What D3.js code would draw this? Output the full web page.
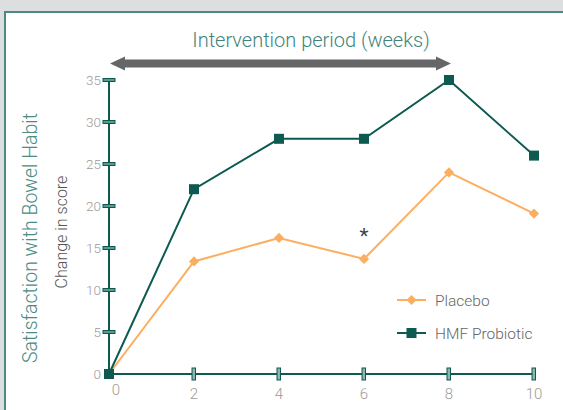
<!DOCTYPE html>
<html><head><meta charset="utf-8">
<script src="https://cdn.jsdelivr.net/npm/d3@7"></script>
<style>
html,body{margin:0;padding:0;background:#dcdee0;}
svg{display:block;}
text{font-family:Roboto, "DejaVu Sans", sans-serif;font-weight:300;}
</style></head>
<body>
<svg id="c" width="563" height="410"></svg>
<script>
const weeks = [0, 2, 4, 6, 8, 10];
const placebo = [0, 13.4, 16.2, 13.7, 24.0, 19.1];
const hmf = [0, 22, 28, 28, 35, 26];
const yTicks = [0, 5, 10, 15, 20, 25, 30, 35];
const xTicks = [0, 2, 4, 6, 8, 10];
const intervention = [0, 8];
const sigWeek = 6, sigLabel = "*";
const seriesNames = ["Placebo", "HMF Probiotic"];

const teal = "#0d5a50", orange = "#fcae60", frameCol = "#4b8a85";
const svg = d3.select("#c");

svg.append("rect").attr("x",5).attr("y",12).attr("width",600).attr("height",420)
  .attr("fill","#fff").attr("stroke",frameCol).attr("stroke-width",2);

const x = d3.scaleLinear().domain([0,10]).range([109,534]);
const y = d3.scaleLinear().domain([0,35]).range([374,80]);

// Title + arrow
svg.append("text").attr("x",311).attr("y",47).attr("text-anchor","middle")
  .attr("fill","#3f847b").attr("font-size",20).text("Intervention period (weeks)");
const ax0 = x(intervention[0]) + 1, ax1 = x(intervention[1]) + 2, ay = 63.5;
const hl = 15, hh = 7, sh = 4;
const ap = d3.path();
ap.moveTo(ax0, ay); ap.lineTo(ax0+hl, ay-hh); ap.lineTo(ax0+hl, ay-sh);
ap.lineTo(ax1-hl, ay-sh); ap.lineTo(ax1-hl, ay-hh); ap.lineTo(ax1, ay);
ap.lineTo(ax1-hl, ay+hh); ap.lineTo(ax1-hl, ay+sh); ap.lineTo(ax0+hl, ay+sh);
ap.lineTo(ax0+hl, ay+hh); ap.closePath();
svg.append("path").attr("d", ap.toString()).attr("fill","#656667");

// Axis titles
svg.append("text").attr("transform","translate(37,238) rotate(-90)").attr("text-anchor","middle")
  .attr("fill","#4a8c84").attr("font-size",19.5).text("Satisfaction with Bowel Habit");
svg.append("text").attr("transform","translate(67,232) rotate(-90)").attr("text-anchor","middle")
  .attr("fill","#555").attr("font-size",16).text("Change in score");

// Axes lines
svg.append("line").attr("x1",x(0)).attr("x2",x(0)).attr("y1",y(35)).attr("y2",y(0))
  .attr("stroke",teal).attr("stroke-width",2);
svg.append("line").attr("x1",x(0)).attr("x2",x(10)+2).attr("y1",y(0)).attr("y2",y(0))
  .attr("stroke",teal).attr("stroke-width",2);

// y ticks
yTicks.forEach(t => {
  if (t > 0) svg.append("rect").attr("x",x(0)-6).attr("y",y(t)-1.5).attr("width",12).attr("height",3)
    .attr("fill","#5d978e").attr("stroke",teal).attr("stroke-width",1);
  svg.append("text").attr("x",x(0)-8).attr("y",y(t)).attr("dy","0.36em").attr("text-anchor","end")
    .attr("fill","#9b9b9b").attr("font-size",13.5).text(t);
});
// x ticks
xTicks.forEach(t => {
  if (t > 0) svg.append("rect").attr("x",x(t)-2).attr("y",y(0)-6).attr("width",3.5).attr("height",12)
    .attr("fill","#8db5ad").attr("stroke",teal).attr("stroke-width",1);
  svg.append("text").attr("x", t === 0 ? x(t)+7 : x(t)).attr("y", t===0 ? 395 : 399).attr("text-anchor","middle")
    .attr("fill","#9b9b9b").attr("font-size",15).text(t);
});

const line = d3.line().x((d,i)=>x(weeks[i])).y(d=>y(d));
svg.append("path").datum(placebo).attr("d",line).attr("fill","none").attr("stroke",orange).attr("stroke-width",2);
svg.append("path").datum(hmf).attr("d",line).attr("fill","none").attr("stroke",teal).attr("stroke-width",2);

svg.selectAll(".pm").data(placebo).join("path")
  .attr("transform",(d,i)=>`translate(${x(weeks[i])},${y(d)}) rotate(45)`)
  .attr("d", d3.symbol().type(d3.symbolSquare).size(52)).attr("fill",orange);
svg.selectAll(".hm").data(hmf).join("rect")
  .attr("x",(d,i)=>x(weeks[i])-5).attr("y",d=>y(d)-5).attr("width",10).attr("height",10).attr("fill",teal);

// significance
svg.append("text").attr("x",x(sigWeek)).attr("y",y(placebo[weeks.indexOf(sigWeek)])-16)
  .attr("text-anchor","middle").attr("fill","#444").attr("font-size",21).style("font-weight",400).text(sigLabel);

// legend
const lg = [{n:seriesNames[0], c:orange, s:"d", y:300},{n:seriesNames[1], c:teal, s:"s", y:333}];
lg.forEach(l => {
  svg.append("line").attr("x1",397).attr("x2",426).attr("y1",l.y).attr("y2",l.y).attr("stroke",l.c).attr("stroke-width",2);
  if (l.s === "d") svg.append("path").attr("transform",`translate(411.5,${l.y}) rotate(45)`)
    .attr("d", d3.symbol().type(d3.symbolSquare).size(52)).attr("fill",l.c);
  else svg.append("rect").attr("x",406.5).attr("y",l.y-5).attr("width",10).attr("height",10).attr("fill",l.c);
  svg.append("text").attr("x",435).attr("y",l.y).attr("dy","0.36em").attr("fill","#666")
    .attr("font-size",15.5).text(l.n);
});
</script>
</body></html>
